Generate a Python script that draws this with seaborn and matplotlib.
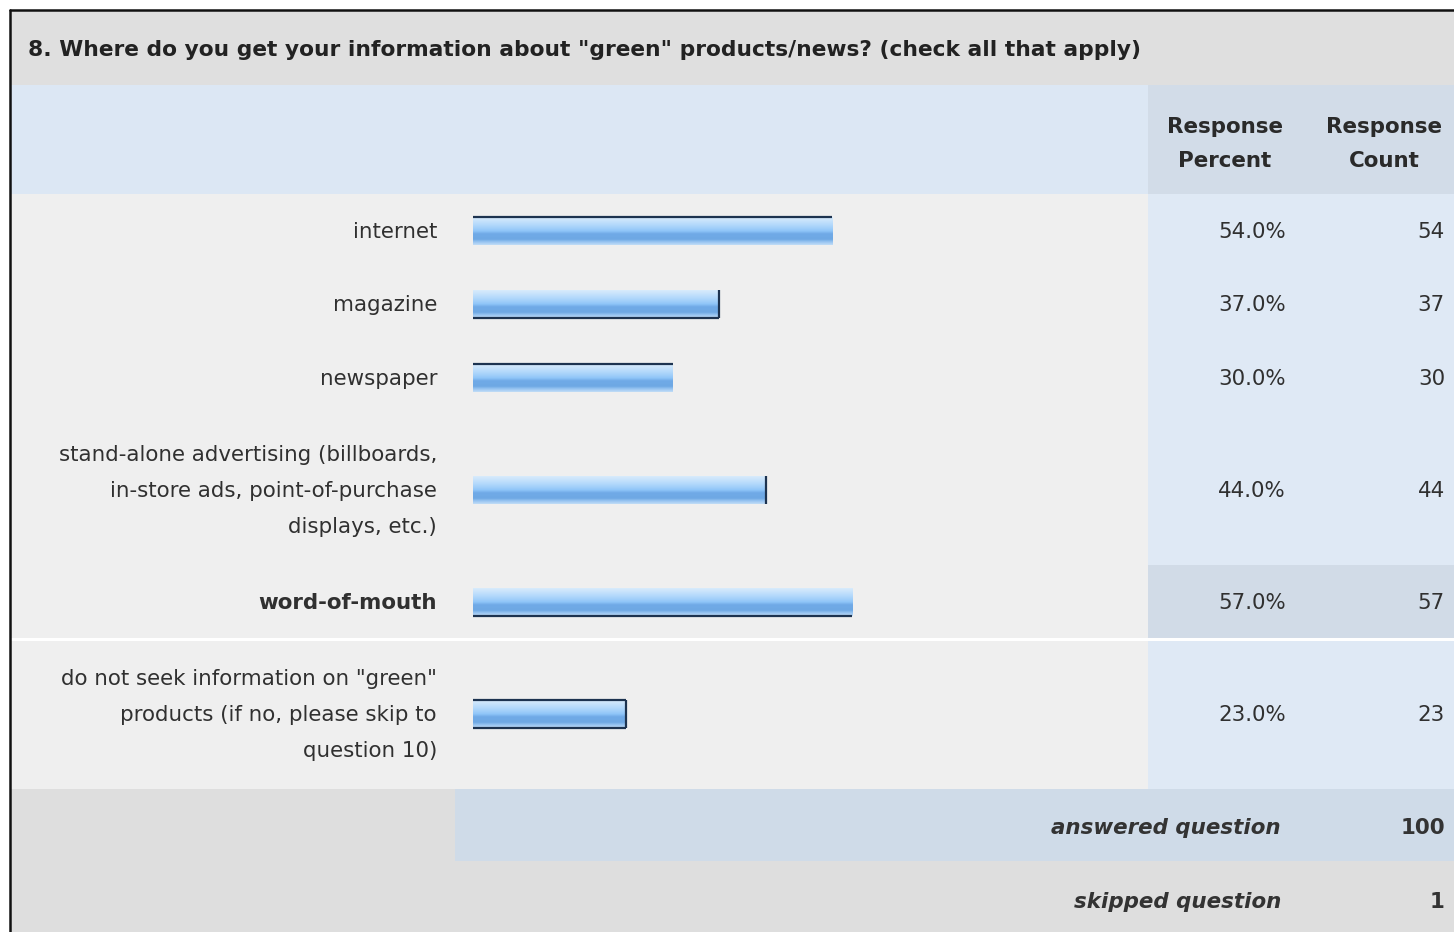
import numpy as np
import matplotlib
matplotlib.use("Agg")
import matplotlib.pyplot as plt
from matplotlib.colors import LinearSegmentedColormap
from matplotlib.patches import Rectangle
import seaborn as sns

# Survey question and answers
question = '8. Where do you get your information about "green" products/news? (check all that apply)'
choices = [
    "internet",
    "magazine",
    "newspaper",
    "stand-alone advertising (billboards,\nin-store ads, point-of-purchase\ndisplays, etc.)",
    "word-of-mouth",
    'do not seek information on "green"\nproducts (if no, please skip to\nquestion 10)',
]
response_percent = [54.0, 37.0, 30.0, 44.0, 57.0, 23.0]
response_count = [54, 37, 30, 44, 57, 23]
answered = 100
skipped = 1
highlighted = "word-of-mouth"

# Dark edge sides drawn on each bar
bar_edges = ["top", "bottom right", "top", "right", "bottom", "top right bottom"]

W, H = 1454, 932
DPI = 100
FS = 15.4

sns.set_theme(style="white")
plt.rcParams["font.family"] = ["DejaVu Sans"]

fig = plt.figure(figsize=(W / DPI, H / DPI), dpi=DPI)
fig.patch.set_facecolor("white")

# Background table in pixel coordinates
ax = fig.add_axes([0, 0, 1, 1])
ax.set_xlim(0, W)
ax.set_ylim(H, 0)
ax.axis("off")

LEFT, SPLIT, RIGHT = 11, 1148, W
TITLE_TOP, HEAD_TOP, BODY_TOP = 11, 85, 194
SINGLE_ROW, TRIPLE_ROW = 73.5, 150.5


def rect(x0, y0, x1, y1, color, z=0):
    ax.add_patch(Rectangle((x0, y0), x1 - x0, y1 - y0, facecolor=color,
                           edgecolor="none", zorder=z))


# title band and header band
rect(LEFT, TITLE_TOP, RIGHT, HEAD_TOP, "#dfdfdf")
rect(LEFT, HEAD_TOP, SPLIT, BODY_TOP, "#dce7f4")
rect(SPLIT, HEAD_TOP, RIGHT, BODY_TOP, "#d2dce8")

# row layout from number of text lines
row_h = [SINGLE_ROW if "\n" not in c else TRIPLE_ROW for c in choices]
row_top = BODY_TOP + np.concatenate([[0], np.cumsum(row_h)[:-1]])
row_center = row_top + np.array(row_h) / 2
body_bottom = BODY_TOP + sum(row_h)

rect(LEFT, BODY_TOP, SPLIT, body_bottom, "#efefef")
rect(SPLIT, BODY_TOP, RIGHT, body_bottom, "#dfe9f5")
for c, t, h in zip(choices, row_top, row_h):
    if c == highlighted:
        rect(SPLIT, t, RIGHT, t + h, "#d1dbe7", z=1)
        ax.plot([LEFT, RIGHT], [t + h, t + h], color="white", lw=2.2, zorder=2)

# summary bands
ANS_H = 72
rect(LEFT, body_bottom, RIGHT, H, "#dedede")
rect(455, body_bottom, RIGHT, body_bottom + ANS_H, "#cfdbe8")

# outer frame
ax.plot([LEFT - 1, LEFT - 1], [H, TITLE_TOP - 1], color="#111111", lw=1.8, zorder=5)
ax.plot([LEFT - 1, RIGHT], [TITLE_TOP - 1, TITLE_TOP - 1], color="#111111", lw=1.8, zorder=5)

# texts
txt = "#303030"
ax.text(28, 50, question, fontsize=FS * 1.02, fontweight="bold", color="#222222",
        va="center", ha="left")
for x, lab in [(1225, "Response\nPercent"), (1384, "Response\nCount")]:
    ax.text(x, 144, lab, fontsize=FS, fontweight="bold", color="#2a2a2a",
            ha="center", va="center", linespacing=1.9)

for c, y, p, n in zip(choices, row_center, response_percent, response_count):
    bold = "bold" if c == highlighted else "normal"
    ax.text(437, y + 1, c, fontsize=FS, color=txt, ha="right", va="center",
            linespacing=2.0, fontweight=bold)
    ax.text(1286, y + 1, f"{p:.1f}%", fontsize=FS, color=txt, ha="right", va="center")
    ax.text(1445, y + 1, f"{n}", fontsize=FS, color=txt, ha="right", va="center")

ans_y = body_bottom + ANS_H / 2 + 3
skp_y = body_bottom + ANS_H + (H - body_bottom - ANS_H) / 2 + 5
ax.text(1281, ans_y, "answered question", fontsize=FS, fontweight="bold",
        fontstyle="italic", color="#333333", ha="right", va="center")
ax.text(1445, ans_y, f"{answered}", fontsize=FS, fontweight="bold",
        color="#333333", ha="right", va="center")
ax.text(1281, skp_y, "skipped question", fontsize=FS, fontweight="bold",
        fontstyle="italic", color="#333333", ha="right", va="center")
ax.text(1445, skp_y, f"{skipped}", fontsize=FS, fontweight="bold",
        color="#333333", ha="right", va="center")

# bar axes: 0..100 % spans the bar column, y in pixel rows
BAR_X0, BAR_FULL, BAR_H = 473, 665, 28
axb = fig.add_axes([BAR_X0 / W, 0, BAR_FULL / W, 1])
axb.patch.set_alpha(0)
spacing = np.min(np.diff(np.sort(row_center)))
sns.barplot(x=response_percent, y=row_center, orient="h", native_scale=True,
            width=BAR_H / spacing, errorbar=None, color="#7fb6ee", ax=axb,
            linewidth=0)

grad_cmap = LinearSegmentedColormap.from_list(
    "bar", [(0.0, "#d8ebfc"), (0.3, "#b0d7fb"), (0.5, "#8fc5f8"),
            (0.6, "#70aae7"), (0.8, "#6ea8e4"), (0.9, "#9ac6f2"), (1.0, "#c0dcf6")])
grad = np.linspace(0, 1, 64).reshape(-1, 1)
edge_kw = dict(color="#1d3350", lw=1.6, solid_capstyle="butt", zorder=4)
for p, sides in zip(sorted(axb.patches, key=lambda r: r.get_y()), bar_edges):
    x0, y0, w, h = p.get_x(), p.get_y(), p.get_width(), p.get_height()
    p.set_facecolor("none")
    im = axb.imshow(grad, extent=[x0, x0 + w, y0 + h, y0], aspect="auto",
                    cmap=grad_cmap, zorder=3, interpolation="bilinear")
    im.set_clip_path(p)
    if "top" in sides:
        axb.plot([x0, x0 + w], [y0, y0], **edge_kw)
    if "bottom" in sides:
        axb.plot([x0, x0 + w], [y0 + h, y0 + h], **edge_kw)
    if "right" in sides:
        axb.plot([x0 + w, x0 + w], [y0, y0 + h], **edge_kw)

axb.set_xlim(0, 100)
axb.set_ylim(H, 0)
axb.axis("off")

fig.savefig("out.png", dpi=DPI, facecolor="white")
